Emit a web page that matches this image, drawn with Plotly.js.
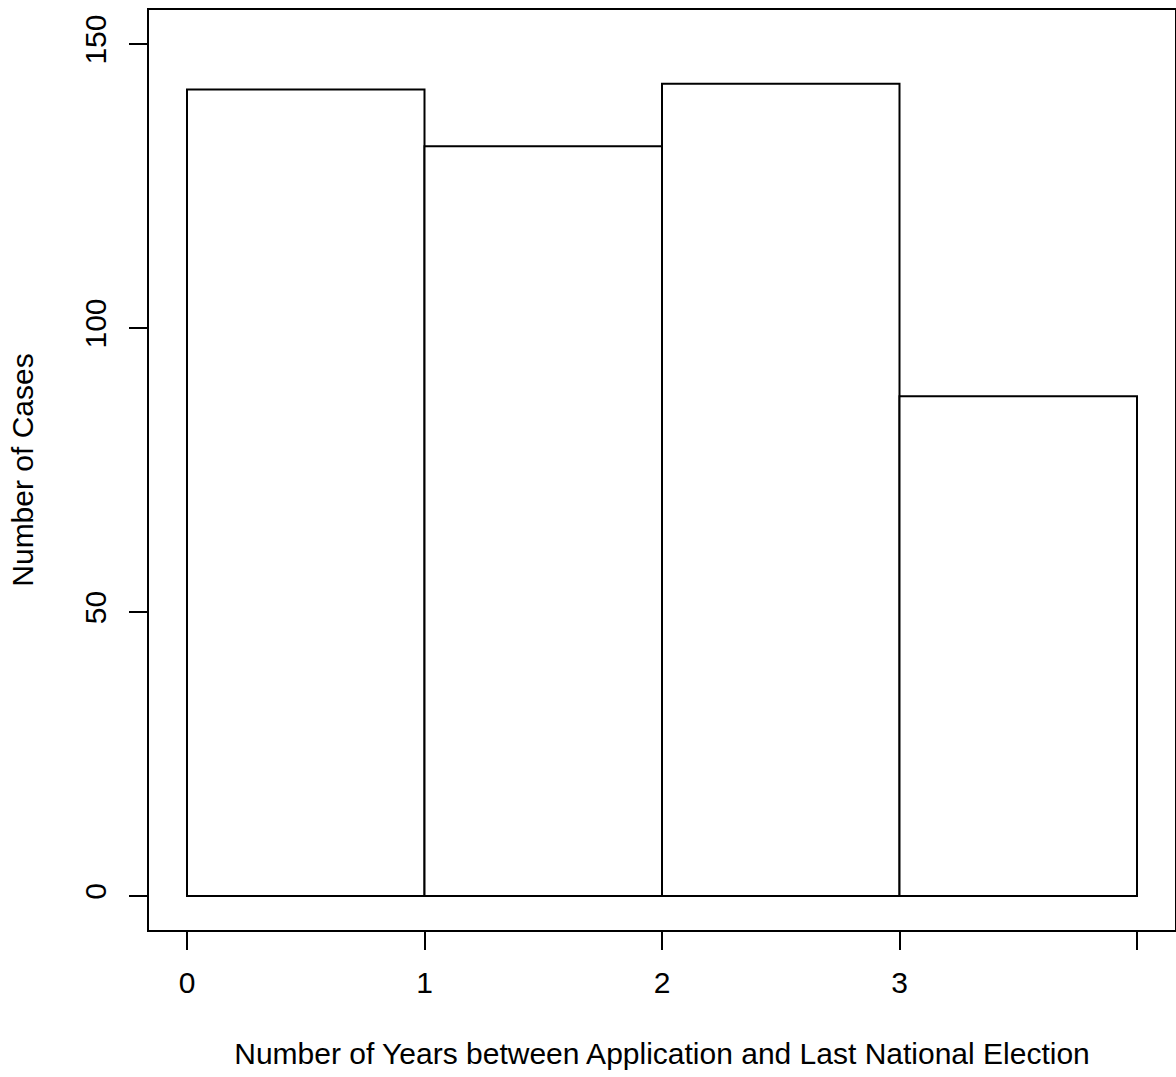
<!DOCTYPE html>
<html>
<head>
<meta charset="utf-8">
<script src="https://cdn.plot.ly/plotly-3.0.1.min.js"></script>
<style>html,body{margin:0;padding:0;background:#fff;}#chart{width:1176px;height:1077px;}</style>
</head>
<body>
<div id="chart"></div>
<script>
// Histogram data
var binEdges = [0, 1, 2, 3, 4];
var counts = [142, 132, 143, 88];
var xTickVals = [0, 1, 2, 3, 4];
var xTickText = ['0', '1', '2', '3', ''];
var yTickVals = [0, 50, 100, 150];
var yTickText = ['0', '50', '100', '150'];

var mids = [], widths = [];
for (var i = 0; i < counts.length; i++) {
  mids.push((binEdges[i] + binEdges[i + 1]) / 2);
  widths.push(binEdges[i + 1] - binEdges[i]);
}

var font = {family: 'Liberation Sans, Arial, Helvetica, sans-serif', size: 30, color: '#000'};

var trace = {
  type: 'bar',
  x: mids,
  y: counts,
  width: widths,
  marker: {color: '#ffffff', line: {color: '#000000', width: 2}},
  hoverinfo: 'x+y'
};

var layout = {
  width: 1176,
  height: 1077,
  margin: {l: 149, r: 1, t: 10, b: 147, pad: 0},
  paper_bgcolor: '#ffffff',
  plot_bgcolor: '#ffffff',
  showlegend: false,
  font: font,
  bargap: 0,
  xaxis: {
    range: [-0.16, 4.16],
    tickmode: 'array',
    tickvals: xTickVals,
    ticktext: xTickText,
    ticks: 'outside',
    ticklen: 18,
    tickwidth: 2,
    tickcolor: '#000',
    showline: true,
    linecolor: '#000',
    linewidth: 2,
    mirror: true,
    showgrid: false,
    zeroline: false,
    tickfont: font,
    ticklabelstandoff: 7,
    title: {text: 'Number of Years between Application and Last National Election', font: font, standoff: 45},
    automargin: false
  },
  yaxis: {
    range: [-6, 156],
    tickmode: 'array',
    tickvals: yTickVals,
    ticktext: yTickText,
    tickangle: -90,
    ticks: 'outside',
    ticklen: 18,
    tickwidth: 2,
    tickcolor: '#000',
    showline: true,
    linecolor: '#000',
    linewidth: 2,
    mirror: true,
    showgrid: false,
    zeroline: false,
    tickfont: font,
    ticklabelstandoff: 11,
    title: {text: 'Number of Cases', font: font, standoff: 37},
    automargin: false
  }
};

Plotly.newPlot('chart', [trace], layout, {displayModeBar: false, staticPlot: true});
</script>
</body>
</html>
